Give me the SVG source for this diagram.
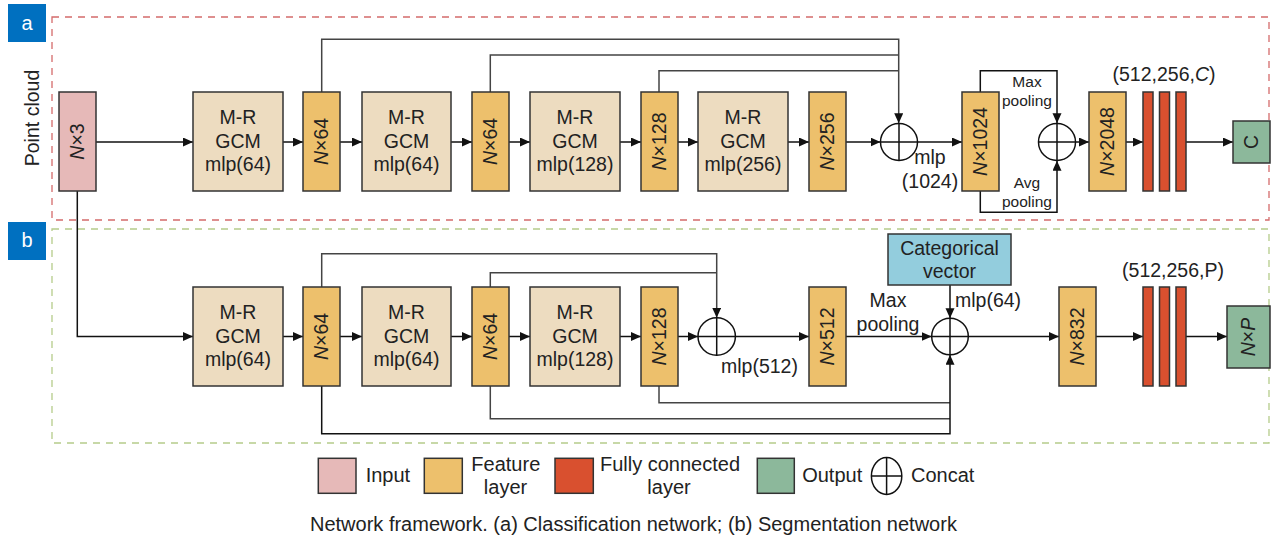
<svg xmlns="http://www.w3.org/2000/svg" width="1271" height="535" viewBox="0 0 1271 535">
<defs>
<marker id="ah" markerUnits="userSpaceOnUse" markerWidth="11" markerHeight="10" refX="10" refY="4.5" orient="auto">
<path d="M0,0 L10,4.5 L0,9 z" fill="#111"/>
</marker>
<style>
text{font-family:"Liberation Sans",Arial,sans-serif;fill:#222}
.t{font-size:19.5px;text-anchor:middle}
.s{font-size:15.5px;text-anchor:middle}
.lg{font-size:20px}
.lgm{font-size:20px;text-anchor:middle}
.in{fill:#e6b9b8;stroke:#333;stroke-width:1.5}
.gcm{fill:#eddcc0;stroke:#333;stroke-width:1.5}
.ft{fill:#edc06c;stroke:#333;stroke-width:1.5}
.fc{fill:#d9502f;stroke:#333;stroke-width:1.5}
.out{fill:#8cb89b;stroke:#333;stroke-width:1.5}
.cat{fill:#93cddd;stroke:#333;stroke-width:1.5}
.c{fill:none;stroke:#111;stroke-width:1.5}
.ln{fill:none;stroke:#111;stroke-width:1.5}
.sk{fill:none;stroke:#444;stroke-width:1.5}
.a{marker-end:url(#ah)}
.lab{fill:#0070c0}
.lt{font-size:20px;fill:#fff;text-anchor:middle}
</style>
</defs>

<g id="panel-a">
<rect x="52" y="17" width="1217" height="203" fill="none" stroke="#d46b6b" stroke-width="1.3" stroke-dasharray="7,6"/>
<rect class="lab" x="8" y="4" width="38" height="38"/>
<text class="lt" x="27" y="30">a</text>
<text class="t" transform="translate(32,118) rotate(-90)" dy="0.35em">Point cloud</text>
</g>
<g id="panel-b">
<rect x="52" y="229" width="1217" height="214" fill="none" stroke="#b5cc8a" stroke-width="1.3" stroke-dasharray="7,6"/>
<rect class="lab" x="8" y="222" width="38" height="38"/>
<text class="lt" x="27" y="247">b</text>
</g>

<g id="connectors">
<path class="ln a" d="M96,142 H193"/>
<path class="ln a" d="M283,142 H303"/>
<path class="ln a" d="M340,142 H362"/>
<path class="ln a" d="M451,142 H472"/>
<path class="ln a" d="M509,142 H530"/>
<path class="ln a" d="M620,142 H641"/>
<path class="ln a" d="M678,142 H698"/>
<path class="ln a" d="M788,142 H809"/>
<path class="ln a" d="M846,142 H880.5"/>
<path class="ln a" d="M917.5,142 H962"/>
<path class="sk a" d="M321.7,92 V39.3 H898.7 V123.3"/>
<path class="sk" d="M490.3,92 V55 H898.7"/>
<path class="sk" d="M659,92 V70.7 H898.7"/>
<path class="ln a" d="M980.3,92 V70.7 H1057 V123.3"/>
<path class="ln a" d="M980.3,191 V212.3 H1057 V160.7"/>
<path class="ln a" d="M1075.5,142 H1089"/>
<path class="ln a" d="M1126,142 H1143"/>
<path class="ln a" d="M1186,142 H1233"/>
<path class="ln a" d="M77.3,191 V336.5 H193"/>
<path class="ln a" d="M283,336.5 H303"/>
<path class="ln a" d="M340,336.5 H362"/>
<path class="ln a" d="M451,336.5 H472"/>
<path class="ln a" d="M509,336.5 H530"/>
<path class="ln a" d="M620,336.5 H641"/>
<path class="ln a" d="M678,336.5 H698"/>
<path class="ln a" d="M735.4,336.5 H809"/>
<path class="sk a" d="M321.7,287 V253.7 H716.7 V317.8"/>
<path class="sk" d="M490.3,287 V272.7 H716.7"/>
<path class="ln a" d="M846,336.5 H931.7"/>
<path class="ln a" d="M950,285 V318.2"/>
<path class="sk" d="M659,386 V402.7 H950"/>
<path class="sk" d="M490.3,386 V418.7 H950"/>
<path class="ln a" d="M321.7,386 V433.7 H950 V354.8"/>
<path class="ln a" d="M968.3,336.5 H1059"/>
<path class="ln a" d="M1096,336.5 H1143"/>
<path class="ln a" d="M1186,336.5 H1227"/>
</g>

<g id="a-input"><rect class="in" x="59" y="92" width="37" height="99"/><text class="t" transform="translate(77.5,141.5) rotate(-90)" dy="0.35em"><tspan font-style="italic">N</tspan>×3</text></g>
<g id="a-gcm1"><rect class="gcm" x="193" y="92" width="90" height="99"/><text class="t" x="238" y="124">M-R</text><text class="t" x="238" y="147.5">GCM</text><text class="t" x="238" y="171">mlp(64)</text></g>
<g id="a-f1"><rect class="ft" x="303" y="92" width="37" height="99"/><text class="t" transform="translate(321.5,141.5) rotate(-90)" dy="0.35em"><tspan font-style="italic">N</tspan>×64</text></g>
<g id="a-gcm2"><rect class="gcm" x="362" y="92" width="89" height="99"/><text class="t" x="406.5" y="124">M-R</text><text class="t" x="406.5" y="147.5">GCM</text><text class="t" x="406.5" y="171">mlp(64)</text></g>
<g id="a-f2"><rect class="ft" x="472" y="92" width="37" height="99"/><text class="t" transform="translate(490.5,141.5) rotate(-90)" dy="0.35em"><tspan font-style="italic">N</tspan>×64</text></g>
<g id="a-gcm3"><rect class="gcm" x="530" y="92" width="90" height="99"/><text class="t" x="575" y="124">M-R</text><text class="t" x="575" y="147.5">GCM</text><text class="t" x="575" y="171">mlp(128)</text></g>
<g id="a-f3"><rect class="ft" x="641" y="92" width="37" height="99"/><text class="t" transform="translate(659.5,141.5) rotate(-90)" dy="0.35em"><tspan font-style="italic">N</tspan>×128</text></g>
<g id="a-gcm4"><rect class="gcm" x="698" y="92" width="90" height="99"/><text class="t" x="743" y="124">M-R</text><text class="t" x="743" y="147.5">GCM</text><text class="t" x="743" y="171">mlp(256)</text></g>
<g id="a-f4"><rect class="ft" x="809" y="92" width="37" height="99"/><text class="t" transform="translate(827.5,141.5) rotate(-90)" dy="0.35em"><tspan font-style="italic">N</tspan>×256</text></g>
<g id="a-concat1"><circle class="c" cx="899" cy="142" r="18.5"/><path class="c" d="M880.5,142 H917.5 M899,123.5 V160.5"/><text class="t" x="930" y="164">mlp</text><text class="t" x="930" y="188">(1024)</text></g>
<g id="a-f5"><rect class="ft" x="962" y="92" width="37" height="99"/><text class="t" transform="translate(980.5,141.5) rotate(-90)" dy="0.35em"><tspan font-style="italic">N</tspan>×1024</text></g>
<g id="a-pool-labels"><text class="s" x="1027" y="87">Max</text><text class="s" x="1027" y="106">pooling</text><text class="s" x="1027" y="188">Avg</text><text class="s" x="1027" y="206.5">pooling</text></g>
<g id="a-concat2"><circle class="c" cx="1057" cy="142" r="18.5"/><path class="c" d="M1038.5,142 H1075.5 M1057,123.5 V160.5"/></g>
<g id="a-f6"><rect class="ft" x="1089" y="92" width="37" height="99"/><text class="t" transform="translate(1107.5,141.5) rotate(-90)" dy="0.35em"><tspan font-style="italic">N</tspan>×2048</text></g>
<g id="a-fc"><rect class="fc" x="1143" y="92" width="10" height="99"/><rect class="fc" x="1159.5" y="92" width="10" height="99"/><rect class="fc" x="1176" y="92" width="10" height="99"/><text class="t" x="1164" y="81">(512,256,<tspan font-style="italic">C</tspan>)</text></g>
<g id="a-out"><rect class="out" x="1233" y="121" width="37" height="42"/><text class="t" transform="translate(1251.5,142) rotate(-90)" dy="0.35em">C</text></g>

<g id="b-gcm1"><rect class="gcm" x="193" y="287" width="90" height="99"/><text class="t" x="238" y="319">M-R</text><text class="t" x="238" y="342.5">GCM</text><text class="t" x="238" y="366">mlp(64)</text></g>
<g id="b-f1"><rect class="ft" x="303" y="287" width="37" height="99"/><text class="t" transform="translate(321.5,336.5) rotate(-90)" dy="0.35em"><tspan font-style="italic">N</tspan>×64</text></g>
<g id="b-gcm2"><rect class="gcm" x="362" y="287" width="89" height="99"/><text class="t" x="406.5" y="319">M-R</text><text class="t" x="406.5" y="342.5">GCM</text><text class="t" x="406.5" y="366">mlp(64)</text></g>
<g id="b-f2"><rect class="ft" x="472" y="287" width="37" height="99"/><text class="t" transform="translate(490.5,336.5) rotate(-90)" dy="0.35em"><tspan font-style="italic">N</tspan>×64</text></g>
<g id="b-gcm3"><rect class="gcm" x="530" y="287" width="90" height="99"/><text class="t" x="575" y="319">M-R</text><text class="t" x="575" y="342.5">GCM</text><text class="t" x="575" y="366">mlp(128)</text></g>
<g id="b-f3"><rect class="ft" x="641" y="287" width="37" height="99"/><text class="t" transform="translate(659.5,336.5) rotate(-90)" dy="0.35em"><tspan font-style="italic">N</tspan>×128</text></g>
<g id="b-concat1"><circle class="c" cx="716.7" cy="336.5" r="18.7"/><path class="c" d="M698,336.5 H735.4 M716.7,317.8 V355.2"/><text class="t" x="759.5" y="373">mlp(512)</text></g>
<g id="b-f4"><rect class="ft" x="809" y="287" width="37" height="99"/><text class="t" transform="translate(827.5,336.5) rotate(-90)" dy="0.35em"><tspan font-style="italic">N</tspan>×512</text></g>
<g id="b-pool-label"><text class="t" x="888" y="307">Max</text><text class="t" x="888" y="330.5">pooling</text></g>
<g id="b-cat"><rect class="cat" x="888" y="234" width="123" height="51"/><text class="t" x="949.5" y="254.5">Categorical</text><text class="t" x="949.5" y="278">vector</text><text x="955" y="307" style="font-size:19.5px">mlp(64)</text></g>
<g id="b-concat2"><circle class="c" cx="950" cy="336.5" r="18.3"/><path class="c" d="M931.7,336.5 H968.3 M950,318.2 V354.8"/></g>
<g id="b-f5"><rect class="ft" x="1059" y="287" width="37" height="99"/><text class="t" transform="translate(1077.5,336.5) rotate(-90)" dy="0.35em"><tspan font-style="italic">N</tspan>×832</text></g>
<g id="b-fc"><rect class="fc" x="1143" y="287" width="10" height="99"/><rect class="fc" x="1159.5" y="287" width="10" height="99"/><rect class="fc" x="1176" y="287" width="10" height="99"/><text class="t" x="1173" y="277">(512,256,P)</text></g>
<g id="b-out"><rect class="out" x="1227" y="306" width="43" height="62"/><text class="t" transform="translate(1248.5,337) rotate(-90)" dy="0.35em"><tspan font-style="italic">N</tspan>×<tspan font-style="italic">P</tspan></text></g>

<g id="legend">
<rect class="in" x="318.3" y="458.3" width="37.7" height="35"/>
<text class="lg" x="365.7" y="481.7">Input</text>
<rect class="ft" x="424.3" y="458.3" width="38" height="35"/>
<text class="lgm" x="505.8" y="470.7">Feature</text>
<text class="lgm" x="505.5" y="494">layer</text>
<rect class="fc" x="555" y="458.3" width="38.3" height="35"/>
<text class="lgm" x="670" y="470.7">Fully connected</text>
<text class="lgm" x="669" y="494">layer</text>
<rect class="out" x="757.3" y="458.3" width="37" height="35"/>
<text class="lg" x="802.2" y="481.7">Output</text>
<ellipse class="c" cx="886.6" cy="476" rx="15.2" ry="18.5"/>
<path class="c" d="M871.4,476 H901.8 M886.6,457.5 V494.5"/>
<text class="lg" x="911" y="481.7">Concat</text>
</g>
<g id="caption">
<text class="lg" x="310" y="531">Network framework. (a) Classification network; (b) Segmentation network</text>
</g>
</svg>
